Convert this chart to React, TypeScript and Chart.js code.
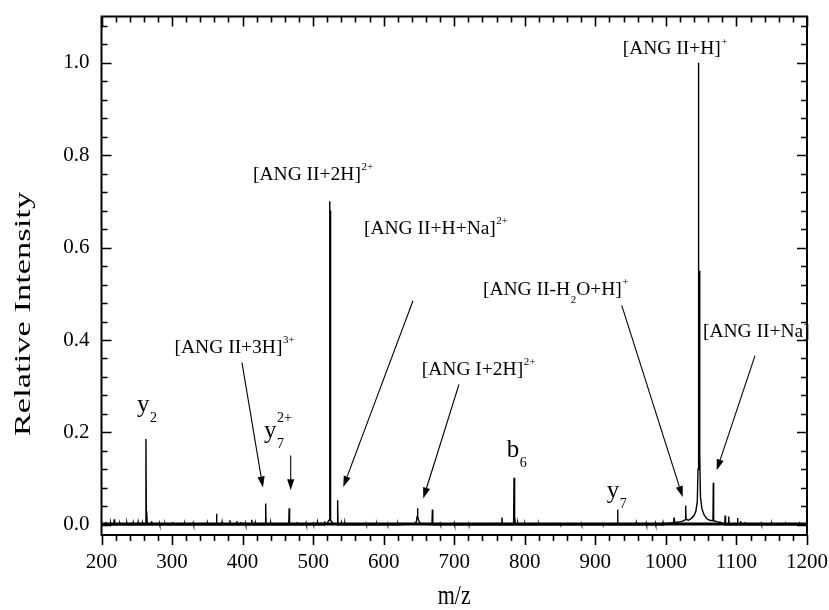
import { useEffect, useRef } from "react";
import { Chart, registerables } from "chart.js";

Chart.register(...registerables);

// ---------- axes ----------
const X_MIN = 200;
const X_MAX = 1200;
const Y_MIN = -0.022;
const Y_MAX = 1.1;
const xTickValues = [200, 300, 400, 500, 600, 700, 800, 900, 1000, 1100, 1200];
const yTickValues = [0, 0.2, 0.4, 0.6, 0.8, 1.0];
const xMinorStep = 20;
const yMinorStep = 0.04;

// ---------- spectrum: isolated sticks (m/z, relative intensity) ----------
const stickMz = [
  206, 213, 218, 226, 236, 245, 252, 258, 263, 264.3, 271, 282, 290, 301, 318, 330, 350, 363, 371, 382,
  392, 397, 404, 413, 418, 432.7, 440, 448, 466, 477, 490, 500, 506, 511, 516, 534.7, 540, 545, 560, 575,
  590, 605, 620, 669, 680, 700, 720, 740, 760, 767.6, 784.7, 786, 790, 800, 820, 850, 880, 910, 931.5,
  958, 972, 985, 996, 1084, 1089, 1101.5, 1106, 1112, 1120, 1135, 1150, 1170, 1190,
];
const stickHeight = [
  0.006, 0.004, 0.012, 0.003, 0.004, 0.005, 0.006, 0.005, 0.186, 0.03, 0.008, 0.004, 0.003, 0.006, 0.003,
  0.004, 0.005, 0.024, 0.006, 0.01, 0.008, 0.006, 0.004, 0.011, 0.005, 0.046, 0.004, 0.003, 0.036, 0.006,
  0.004, 0.003, 0.006, 0.005, 0.008, 0.053, 0.005, 0.004, 0.003, 0.003, 0.003, 0.003, 0.003, 0.033, 0.003,
  0.004, 0.003, 0.003, 0.005, 0.016, 0.102, 0.02, 0.004, 0.003, 0.003, 0.002, 0.003, 0.002, 0.033, 0.005,
  0.004, 0.004, 0.005, 0.02, 0.018, 0.015, 0.008, 0.006, 0.004, 0.003, 0.003, 0.002, 0.002,
];

// ---------- spectrum: broadened regions read point by point ----------
const envelopeMz = [
  520, 522.5, 523.3, 523.8, 524.2, 524.5, 525, 527.5,
  644, 646.5, 647.4, 647.9, 648.5, 649.5, 651, 653,
  1000, 1008, 1011, 1011.5, 1012, 1018, 1024, 1027.5, 1028, 1028.6, 1032, 1036, 1040, 1042.5, 1044.5,
  1045.5, 1046, 1046.7, 1047.4, 1048, 1049, 1051, 1054, 1058, 1062, 1066.7, 1067.2, 1067.7, 1072, 1078,
];
const envelopeIntensity = [
  0.004, 0.01, 0.025, 0.7, 0.1, 0.68, 0.01, 0.004,
  0.002, 0.008, 0.018, 0.036, 0.018, 0.01, 0.005, 0.002,
  0.003, 0.004, 0.005, 0.016, 0.005, 0.006, 0.008, 0.011, 0.042, 0.012, 0.01, 0.014, 0.02, 0.03, 0.05,
  0.12, 1.0, 0.3, 0.55, 0.15, 0.06, 0.035, 0.022, 0.013, 0.01, 0.009, 0.091, 0.009, 0.007, 0.005,
];

const baselineMz = [200, 1200];
const baselineIntensity = [0.002, 0.002];

// ---------- annotations ----------
type Part = { t: string; sub?: string; sup?: string };
const labelParts: Part[][] = [
  [{ t: "[ANG II+H]", sup: "+" }],
  [{ t: "[ANG II+2H]", sup: "2+" }],
  [{ t: "[ANG II+H+Na]", sup: "2+" }],
  [{ t: "[ANG II-H", sub: "2" }, { t: "O+H]", sup: "+" }],
  [{ t: "[ANG II+Na]" }],
  [{ t: "[ANG I+2H]", sup: "2+" }],
  [{ t: "[ANG II+3H]", sup: "3+" }],
  [{ t: "y", sub: "2" }],
  [{ t: "y", sub: "7", sup: "2+" }],
  [{ t: "b", sub: "6" }],
  [{ t: "y", sub: "7" }],
];
const labelKind = ["ion", "ion", "ion", "ion", "ion", "ion", "ion", "frag", "frag", "frag", "frag"];
const labelMz = [938.7, 414.7, 572, 740.7, 1052.5, 653.9, 303.5, 250.3, 430.3, 774.3, 916.1];
const labelIntensity = [1.018, 0.746, 0.629, 0.497, 0.406, 0.324, 0.372, 0.244, 0.187, 0.146, 0.057];

const arrowFromMz = [399.1, 468.2, 641.5, 706.7, 937.4, 1126.3];
const arrowFromIntensity = [0.351, 0.15, 0.485, 0.304, 0.475, 0.366];
const arrowToMz = [428.8, 468.2, 542.7, 656.1, 1023.8, 1072];
const arrowToIntensity = [0.081, 0.075, 0.082, 0.057, 0.06, 0.118];

const FONT = "'Liberation Serif', 'Times New Roman', serif";

function buildSpectrum() {
  const pts: { x: number; y: number }[] = [];
  stickMz.forEach((m, i) => {
    pts.push({ x: m - 0.6, y: 0 });
    pts.push({ x: m, y: stickHeight[i] });
    pts.push({ x: m + 0.6, y: 0 });
  });
  envelopeMz.forEach((m, i) => pts.push({ x: m, y: envelopeIntensity[i] }));
  pts.push({ x: X_MIN, y: 0 });
  pts.push({ x: X_MAX, y: 0 });
  pts.sort((a, b) => a.x - b.x);
  return pts;
}

const decorPlugin = {
  id: "decor",
  afterDatasetsDraw(chart: any) {
    const { ctx } = chart;
    const xs = chart.scales.x;
    const ys = chart.scales.y;
    ctx.save();
    ctx.fillStyle = "#000";
    ctx.strokeStyle = "#000";
    ctx.textBaseline = "alphabetic";
    ctx.textAlign = "left";

    labelParts.forEach((parts, i) => {
      const frag = labelKind[i] === "frag";
      const main = frag ? 25 : 19.5;
      const small = frag ? 14 : 11;
      const subOff = frag ? 10 : 7.5;
      const supOff = frag ? -16 : -9.8;
      let x = xs.getPixelForValue(labelMz[i]);
      const y = ys.getPixelForValue(labelIntensity[i]);
      parts.forEach((p) => {
        ctx.font = `${main}px ${FONT}`;
        ctx.fillText(p.t, x, y);
        x += ctx.measureText(p.t).width;
        ctx.font = `${small}px ${FONT}`;
        let w = 0;
        if (p.sub) {
          ctx.fillText(p.sub, x + 0.5, y + subOff);
          w = Math.max(w, ctx.measureText(p.sub).width + 0.5);
        }
        if (p.sup) {
          ctx.fillText(p.sup, x + 0.5, y + supOff);
          w = Math.max(w, ctx.measureText(p.sup).width + 0.5);
        }
        x += w;
      });
    });

    ctx.lineWidth = 1.1;
    arrowFromMz.forEach((_, i) => {
      const x1 = xs.getPixelForValue(arrowFromMz[i]);
      const y1 = ys.getPixelForValue(arrowFromIntensity[i]);
      const x2 = xs.getPixelForValue(arrowToMz[i]);
      const y2 = ys.getPixelForValue(arrowToIntensity[i]);
      const ang = Math.atan2(y2 - y1, x2 - x1);
      const len = 11;
      const hw = 3.6;
      const bx = x2 - len * Math.cos(ang);
      const by = y2 - len * Math.sin(ang);
      ctx.beginPath();
      ctx.moveTo(x1, y1);
      ctx.lineTo(bx, by);
      ctx.stroke();
      ctx.beginPath();
      ctx.moveTo(x2, y2);
      ctx.lineTo(bx + hw * Math.sin(ang), by - hw * Math.cos(ang));
      ctx.lineTo(bx - hw * Math.sin(ang), by + hw * Math.cos(ang));
      ctx.closePath();
      ctx.fill();
    });
    ctx.restore();
  },
  afterDraw(chart: any) {
    const { ctx, chartArea } = chart;
    const { left, right, top, bottom } = chartArea;
    const xs = chart.scales.x;
    const ys = chart.scales.y;
    ctx.save();
    ctx.strokeStyle = "#000";
    ctx.lineWidth = 2;
    ctx.strokeRect(left, top, right - left, bottom - top);
    ctx.lineWidth = 1.6;
    ctx.beginPath();
    const nX = Math.round((X_MAX - X_MIN) / xMinorStep);
    for (let i = 0; i <= nX; i++) {
      const v = X_MIN + i * xMinorStep;
      const px = Math.round(xs.getPixelForValue(v)) + 0.5;
      const len = i % 5 === 0 ? 10 : 6;
      ctx.moveTo(px, bottom);
      ctx.lineTo(px, bottom + len);
      ctx.moveTo(px, top);
      ctx.lineTo(px, top + len);
    }
    const nY = Math.floor((Y_MAX + 1e-9) / yMinorStep);
    for (let i = 0; i <= nY; i++) {
      const v = i * yMinorStep;
      const py = Math.round(ys.getPixelForValue(v)) + 0.5;
      const len = i % 5 === 0 ? 10 : 6;
      ctx.moveTo(left, py);
      ctx.lineTo(left + len, py);
      ctx.moveTo(right, py);
      ctx.lineTo(right - len, py);
    }
    ctx.stroke();

    ctx.fillStyle = "#000";
    ctx.textAlign = "center";
    ctx.textBaseline = "middle";
    ctx.save();
    ctx.translate((left + right) / 2, 597);
    ctx.scale(1, 1.2);
    ctx.font = `22px ${FONT}`;
    ctx.fillText("m/z", 0, 0);
    ctx.restore();
    ctx.save();
    ctx.translate(24, 314);
    ctx.rotate(-Math.PI / 2);
    ctx.scale(1.5, 1);
    ctx.font = `23px ${FONT}`;
    ctx.fillText("Relative Intensity", 0, 0);
    ctx.restore();
    ctx.restore();
  },
};

export default function App() {
  const ref = useRef<HTMLCanvasElement | null>(null);
  useEffect(() => {
    document.body.style.margin = "0";
    if (!ref.current) return;
    const zeroPad = (s: any) => {
      s.paddingTop = 0;
      s.paddingBottom = 0;
      s.paddingLeft = 0;
      s.paddingRight = 0;
    };
    const chart = new Chart(ref.current, {
      type: "scatter",
      data: {
        datasets: [
          {
            data: baselineMz.map((m, i) => ({ x: m, y: baselineIntensity[i] })),
            showLine: true,
            borderColor: "#000",
            borderWidth: 3,
            pointRadius: 0,
          },
          {
            data: buildSpectrum(),
            showLine: true,
            borderColor: "#000",
            borderWidth: 1.4,
            pointRadius: 0,
            tension: 0,
          },
        ],
      },
      options: {
        animation: false,
        responsive: false,
        devicePixelRatio: 1,
        layout: { padding: { top: 16.5, right: 22, left: 0, bottom: 0 } },
        plugins: { legend: { display: false }, tooltip: { enabled: false } },
        events: [],
        scales: {
          x: {
            type: "linear",
            min: X_MIN,
            max: X_MAX,
            grid: { display: false, drawTicks: false },
            border: { display: false },
            ticks: {
              color: "#000",
              font: { family: FONT, size: 21 },
              padding: 15,
              maxRotation: 0,
              autoSkip: false,
              callback: (v: any) => String(v),
            },
            afterBuildTicks: (s: any) => {
              s.ticks = xTickValues.map((v) => ({ value: v }));
            },
            afterFit: (s: any) => {
              s.height = 75;
              zeroPad(s);
            },
          },
          y: {
            type: "linear",
            min: Y_MIN,
            max: Y_MAX,
            grid: { display: false, drawTicks: false },
            border: { display: false },
            ticks: {
              color: "#000",
              font: { family: FONT, size: 21 },
              padding: 12,
              callback: (v: any) => Number(v).toFixed(1),
            },
            afterBuildTicks: (s: any) => {
              s.ticks = yTickValues.map((v) => ({ value: v }));
            },
            afterFit: (s: any) => {
              s.width = 101.5;
              zeroPad(s);
            },
          },
        },
      },
      plugins: [decorPlugin],
    });
    return () => chart.destroy();
  }, []);
  return (
    <div>
      <canvas ref={ref} width={829} height={610} style={{ display: "block" }} />
    </div>
  );
}
